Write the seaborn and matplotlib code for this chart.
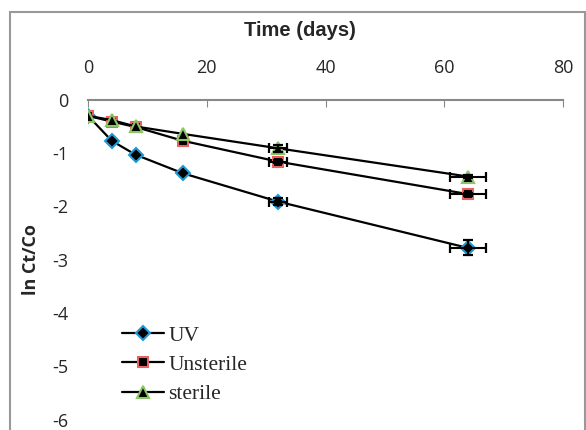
import matplotlib
matplotlib.use("Agg")
import matplotlib.pyplot as plt
import seaborn as sns
import pandas as pd
from matplotlib.patches import Rectangle

days = [0, 4, 8, 16, 32, 64]
uv = [-0.30, -0.77, -1.03, -1.38, -1.91, -2.78]
unsterile = [-0.30, -0.41, -0.51, -0.77, -1.16, -1.77]
sterile = [-0.30, -0.38, -0.50, -0.64, -0.91, -1.44]

# error bars only shown on the last two time points
err_days = [32, 64]
err_x = [1.5, 3.1]
uv_err = [0.06, 0.14]
unsterile_err = [0.03, 0.03]
sterile_err = [0.07, 0.03]

series = [
    ("UV", uv, uv_err, "D", "#1f9bd7", 6.8),
    ("Unsterile", unsterile, unsterile_err, "s", "#e8625f", 7.5),
    ("sterile", sterile, sterile_err, "^", "#8cc466", 8.5),
]

sns.set_style("white")
plt.rcParams["font.family"] = ["Open Sans", "DejaVu Sans"]
plt.rcParams["axes.unicode_minus"] = False

fig = plt.figure(figsize=(5.86, 4.3), dpi=100)
ax = fig.add_axes([0.1502, 0.0244, 0.8106, 0.7435])

for name, vals, errs, mk, edge, ms in series:
    df = pd.DataFrame({"day": days, "val": vals})
    sns.lineplot(data=df, x="day", y="val", ax=ax, color="black", lw=1.6,
                 marker=mk, markersize=ms, markerfacecolor="black",
                 markeredgecolor=edge, markeredgewidth=1.5, label=name)
    ax.errorbar(err_days, vals[-2:], xerr=err_x, yerr=errs, fmt="none",
                ecolor="black", elinewidth=1.5, capsize=3.5, capthick=1.6)

ax.set_xlim(0, 80)
ax.set_ylim(-6, 0)
ax.set_xticks([0, 20, 40, 60, 80])
ax.set_yticks([0, -1, -2, -3, -4, -5, -6])
ax.xaxis.tick_top()
ax.tick_params(axis="x", direction="in", length=5, color="#888888",
               labelsize=13, pad=16.5)
ax.tick_params(axis="y", length=0, labelsize=13, pad=14)
for s in ["left", "right", "bottom"]:
    ax.spines[s].set_visible(False)
ax.spines["top"].set_color("#888888")
ax.spines["top"].set_linewidth(1.5)

ax.set_xlabel("")
ax.set_ylabel("ln Ct/Co", fontsize=13, fontweight="bold")
ax.yaxis.set_label_coords(-0.102, 0.5)
fig.text(300 / 586, 1 - 30 / 430, "Time (days)", ha="center", va="center",
         fontsize=14.5, fontweight="bold", family="Liberation Sans")

ax.legend(loc="upper left", bbox_to_anchor=(0.072, 0.293), frameon=False,
          prop={"family": "Liberation Serif", "size": 15.5},
          handlelength=1.95, handletextpad=0.2, labelspacing=0.42,
          borderpad=0, borderaxespad=0)

fig.patches.append(Rectangle((10 / 586, -0.05), 0.999 - 10 / 586, 1.05 - 12 / 430,
                             transform=fig.transFigure, fill=False,
                             edgecolor="#999999", lw=1.5))

fig.savefig("out.png", dpi=100)
